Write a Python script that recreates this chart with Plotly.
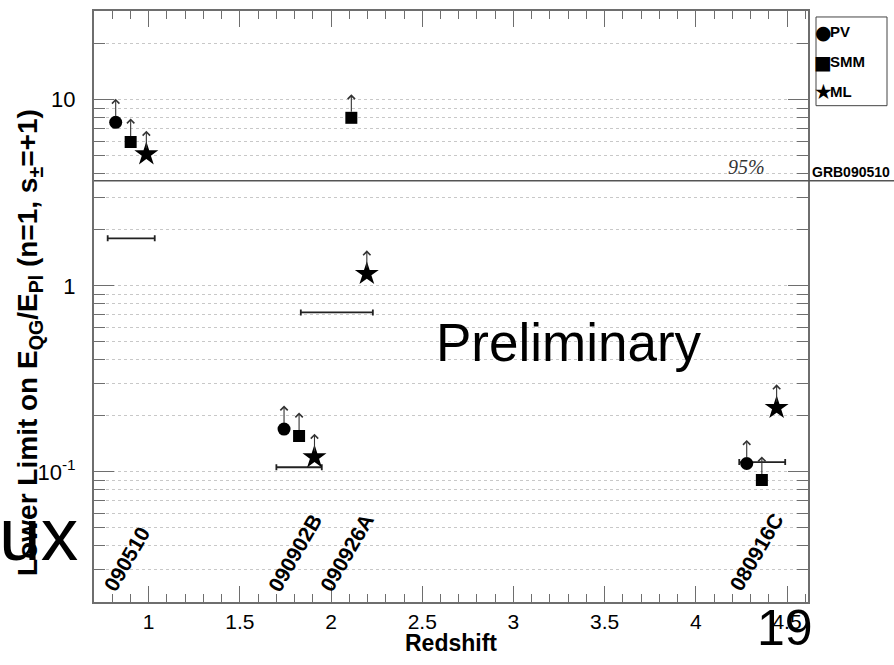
import numpy as np
import plotly.graph_objects as go

# ---------------- data ----------------
grb_names = ["090510", "090902B", "090926A", "080916C"]
grb_redshift = [0.903, 1.822, 2.106, 4.35]

pv_x = [0.819, 1.742, 4.279]
pv_y = [7.57, 0.170, 0.111]

smm_x = [0.901, 1.8245, 2.111, 4.362]
smm_y = [5.93, 0.156, 8.0, 0.0905]

ml_x = [0.987, 1.909, 2.196, 4.443]
ml_y = [5.10, 0.120, 1.16, 0.221]

range_y = [1.80, 0.106, 0.72, 0.113]
range_lo = [0.775, 1.700, 1.834, 4.238]
range_hi = [1.033, 1.949, 2.229, 4.490]

grb090510_limit = 3.67

x_ticks = [1, 1.5, 2, 2.5, 3, 3.5, 4, 4.5]
x_ticktext = ["1", "1.5", "2", "2.5", "3", "3.5", "4", "4.5"]
y_ticks = [0.1, 1, 10]
y_ticktext = ["10<sup>-1</sup>", "1", "10"]

legend_names = ["PV", "SMM", "ML"]
legend_glyphs = ["\u25CF", "\u25A0", "\u2605"]

# ---------------- figure ----------------
FONT = "Liberation Sans, Arial, Helvetica, sans-serif"
AXC = "#6e6e6e"

W, H = 894, 665
ML_, MR_, MT_, MB_ = 94, 86, 9, 63
PW, PH = W - ML_ - MR_, H - MT_ - MB_


def px_x(p):
    return (p - ML_) / PW


def px_y(p):
    return (H - MB_ - p) / PH


fig = go.Figure()

# horizontal range bars
rc = (np.array(range_lo) + np.array(range_hi)) / 2
fig.add_trace(go.Scatter(
    x=rc, y=range_y, mode="markers",
    marker=dict(size=1, color="rgba(0,0,0,0)"),
    error_x=dict(type="data", symmetric=False,
                 array=np.array(range_hi) - rc, arrayminus=rc - np.array(range_lo),
                 color="#222222", thickness=1.8, width=3),
    showlegend=False, hoverinfo="skip"))

fig.add_trace(go.Scatter(x=pv_x, y=pv_y, mode="markers", name="PV",
                         marker=dict(symbol="circle", size=13, color="black"),
                         showlegend=False))
fig.add_trace(go.Scatter(x=smm_x, y=smm_y, mode="markers", name="SMM",
                         marker=dict(symbol="square", size=12, color="black"),
                         showlegend=False))
fig.add_trace(go.Scatter(x=ml_x, y=ml_y, mode="markers", name="ML",
                         marker=dict(symbol="star", size=18, color="black"),
                         showlegend=False))

annotations = []
# lower-limit arrows
for xs, ys in ((pv_x, pv_y), (smm_x, smm_y), (ml_x, ml_y)):
    for xv, yv in zip(xs, ys):
        annotations.append(dict(
            x=xv, y=np.log10(yv), xref="x", yref="y", text="", showarrow=True,
            ax=0, ay=-25, arrowside="start", startarrowhead=4, startarrowsize=1.3,
            arrowwidth=1.1, arrowcolor="#333333", standoff=6))

# GRB labels along the bottom
for name, z in zip(grb_names, grb_redshift):
    annotations.append(dict(
        x=z - 0.02, y=np.log10(0.0211), xref="x", yref="y", text="<b>%s</b>" % name,
        showarrow=False, textangle=-60, xanchor="center", yanchor="bottom",
        font=dict(family=FONT, size=21, color="black")))

# 95% / GRB090510 labels
annotations.append(dict(x=px_x(767), xref="paper", y=np.log10(grb090510_limit), yref="y",
                        text="<i>95%</i>", showarrow=False, xanchor="right",
                        yanchor="bottom", yshift=1,
                        font=dict(family="Liberation Serif, Times New Roman, serif",
                                  size=20, color="#333333")))
annotations.append(dict(x=px_x(810), xref="paper", y=np.log10(grb090510_limit), yref="y",
                        text="<b>GRB090510</b>", showarrow=False, xanchor="left",
                        yanchor="bottom", yshift=-1,
                        font=dict(family=FONT, size=14, color="black")))

# axis titles
annotations.append(dict(x=0.5, xref="paper", y=px_y(643), yref="paper",
                        text="<b>Redshift</b>", showarrow=False,
                        xanchor="center", yanchor="middle",
                        font=dict(family=FONT, size=23, color="black")))
annotations.append(dict(x=px_x(30), xref="paper", y=px_y(342), yref="paper",
                        text="<b>Lower Limit on E<sub>QG</sub>/E<sub>Pl</sub> (n=1, s<sub>±</sub>=+1)</b>",
                        showarrow=False, textangle=-90,
                        xanchor="center", yanchor="middle",
                        font=dict(family=FONT, size=28, color="black")))

# manual legend (box + glyph + label)
leg_y = [30, 60, 90]
leg_sizes = [19, 19, 21]
for name, glyph, yy, gs in zip(legend_names, legend_glyphs, leg_y, leg_sizes):
    annotations.append(dict(x=px_x(823), xref="paper", y=px_y(yy), yref="paper",
                            text=glyph, showarrow=False, xanchor="center",
                            yanchor="middle",
                            font=dict(family="DejaVu Sans", size=gs, color="black")))
    annotations.append(dict(x=px_x(828), xref="paper", y=px_y(yy), yref="paper",
                            text="<b>%s</b>" % name, showarrow=False, xanchor="left",
                            yanchor="middle",
                            font=dict(family=FONT, size=15, color="black")))

# slide overlay texts
annotations.append(dict(x=px_x(434), xref="paper", y=px_y(342), yref="paper",
                        text="Preliminary", showarrow=False,
                        xanchor="left", yanchor="middle",
                        font=dict(family=FONT, size=53, color="black")))
annotations.append(dict(x=px_x(755), xref="paper", y=px_y(628), yref="paper",
                        text="19", showarrow=False,
                        xanchor="left", yanchor="middle",
                        font=dict(family=FONT, size=50, color="black")))
annotations.append(dict(x=px_x(-3), xref="paper", y=px_y(534), yref="paper",
                        text="ux", showarrow=False,
                        xanchor="left", yanchor="middle",
                        font=dict(family=FONT, size=75, color="black")))

shapes = [
    dict(type="line", xref="paper", x0=0, x1=1.15, yref="y",
         y0=grb090510_limit, y1=grb090510_limit,
         line=dict(color="#555555", width=1.5)),
    dict(type="rect", xref="paper", yref="paper",
         x0=px_x(816), x1=px_x(887), y0=px_y(104), y1=px_y(15),
         line=dict(color="#444444", width=1), fillcolor="white", layer="above"),
]

minor_y = [m * d for d in (0.01, 0.1, 1, 10) for m in range(2, 10)]
minor_y = [v for v in minor_y if 0.02 <= v <= 30]

fig.update_layout(
    width=W, height=H,
    margin=dict(l=ML_, r=MR_, t=MT_, b=MB_),
    paper_bgcolor="white", plot_bgcolor="white",
    font=dict(family=FONT, color="black"),
    annotations=annotations, shapes=shapes,
    showlegend=False,
    xaxis=dict(range=[0.7, 4.615], tickmode="array", tickvals=x_ticks,
               ticktext=x_ticktext, ticks="inside", ticklen=16, tickwidth=1,
               tickcolor=AXC, showline=True, linecolor=AXC, linewidth=2,
               mirror="allticks", showgrid=False, zeroline=False,
               tickfont=dict(family=FONT, size=21, color="black"),
               minor=dict(dtick=0.1, tick0=0, ticks="inside", ticklen=8,
                          tickcolor=AXC, showgrid=False)),
    yaxis=dict(type="log", range=[np.log10(0.02), np.log10(30)],
               tickmode="array", tickvals=y_ticks, ticktext=y_ticktext,
               ticks="inside", ticklen=20, tickwidth=1, tickcolor=AXC,
               showline=True, linecolor=AXC, linewidth=2, mirror="allticks",
               showgrid=True, gridcolor="#c8c8c8", griddash="dot", gridwidth=1,
               zeroline=False, ticklabelstandoff=12,
               tickfont=dict(family=FONT, size=22, color="black"),
               minor=dict(tickmode="array", tickvals=minor_y, ticks="inside",
                          ticklen=11, tickcolor=AXC, showgrid=True,
                          gridcolor="#c8c8c8", griddash="dot", gridwidth=1)),
)

fig.write_html("out.html")
